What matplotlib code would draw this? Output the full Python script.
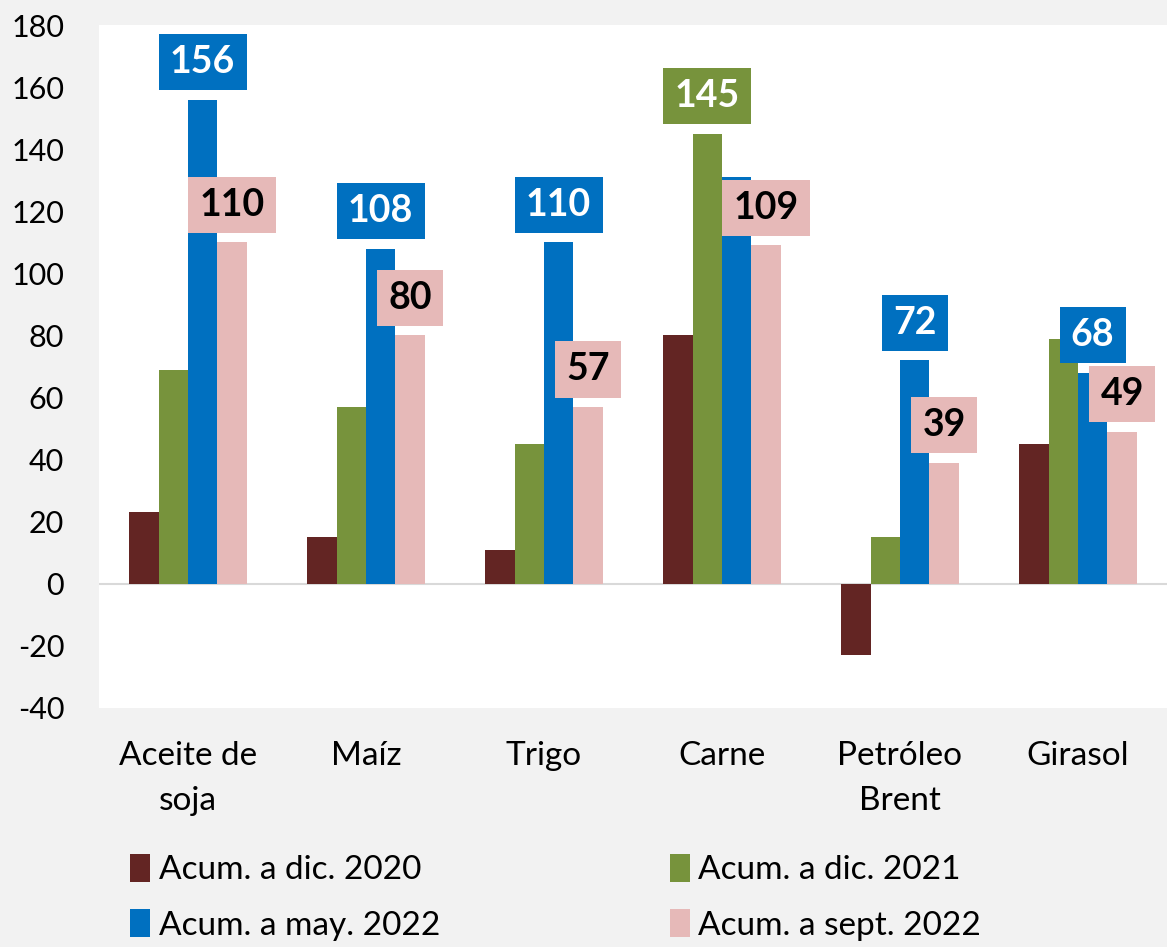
import numpy as np
import matplotlib
matplotlib.use("Agg")
from matplotlib import pyplot as plt

plt.rcParams['font.family'] = ['Lato', 'DejaVu Sans']
plt.rcParams['axes.unicode_minus'] = False

categories = ["Aceite de\nsoja", "Maíz", "Trigo", "Carne", "Petróleo\nBrent", "Girasol"]
series_names = ["Acum. a dic. 2020", "Acum. a dic. 2021", "Acum. a may. 2022", "Acum. a sept. 2022"]
dic2020 = [23, 15, 11, 80, -23, 45]
dic2021 = [69, 57, 45, 145, 15, 79]
may2022 = [156, 108, 110, 131, 72, 68]
sept2022 = [110, 80, 57, 109, 39, 49]
# which bars carry a value box
label_dic2021 = [False, False, False, True, False, False]
label_may2022 = [True, True, True, False, True, True]
label_sept2022 = [True, True, True, True, True, True]

colors = ["#632523", "#77933C", "#0070C0", "#E6B9B8"]
bg = "#F2F2F2"

fig = plt.figure(figsize=(11.67, 9.47), dpi=100, facecolor=bg)
ax = fig.add_axes([0.0848, 0.2524, 0.9152, 0.7212])
ax.set_facecolor("white")

x = np.arange(len(categories))
w = 0.165
all_series = [dic2020, dic2021, may2022, sept2022]
bars = []
for i, (vals, c, name) in enumerate(zip(all_series, colors, series_names)):
    b = ax.bar(x + (i - 1.5) * w, vals, w, color=c, label=name, zorder=2)
    bars.append(b)


def boxed(barset, vals, flags, fc, tc):
    for rect, v, f in zip(barset, vals, flags):
        if not f:
            continue
        ax.annotate(str(v), (rect.get_x() + rect.get_width() / 2, v),
                    xytext=(0, 27), textcoords="offset points",
                    ha="center", va="center", fontsize=27, fontweight="bold",
                    color=tc, zorder=4,
                    bbox=dict(boxstyle="square,pad=0.3", fc=fc, ec="none"))


boxed(bars[1], dic2021, label_dic2021, colors[1], "white")
boxed(bars[2], may2022, label_may2022, colors[2], "white")
boxed(bars[3], sept2022, label_sept2022, colors[3], "black")

ax.axhline(0, color="#D9D9D9", lw=1.5, zorder=1)
ax.set_ylim(-40, 180)
ax.set_xlim(-0.5, len(categories) - 0.5)
ax.set_yticks(range(-40, 181, 20))
ax.set_xticks(x)
ax.set_xticklabels(categories, fontsize=24, linespacing=1.6)
ax.tick_params(axis="y", labelsize=22, length=0, pad=25)
ax.tick_params(axis="x", length=0, pad=24)
for s in ax.spines.values():
    s.set_visible(False)

# legend filled row by row: 2020, 2021 / may 2022, sept 2022
order = [0, 2, 1, 3]
fig.legend([bars[k] for k in order], [series_names[k] for k in order],
           loc="lower left", bbox_to_anchor=(0.086, -0.025), ncol=2, frameon=False,
           fontsize=24, handlelength=0.6, handleheight=0.9, handletextpad=0.25,
           columnspacing=6.9, labelspacing=0.72)

fig.savefig("out.png", dpi=100, facecolor=bg)
